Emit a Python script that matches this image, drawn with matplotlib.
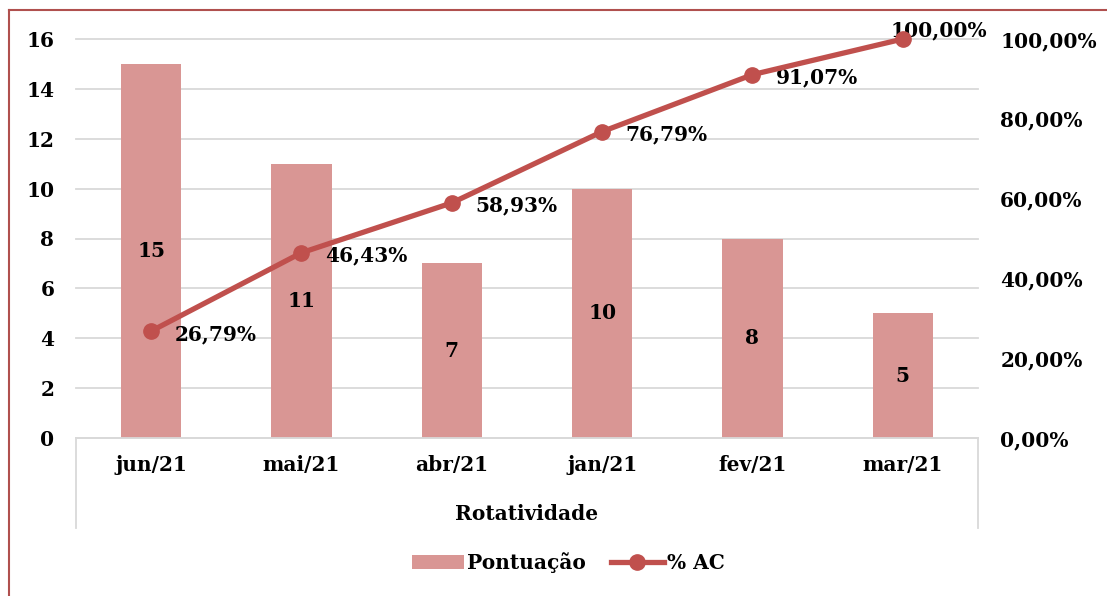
import matplotlib
matplotlib.use("Agg")
import matplotlib.pyplot as plt
from matplotlib.lines import Line2D
from matplotlib.patches import Patch
import numpy as np

# data
meses = ["jun/21", "mai/21", "abr/21", "jan/21", "fev/21", "mar/21"]
pontuacao = [15, 11, 7, 10, 8, 5]
perc_ac = [26.79, 46.43, 58.93, 76.79, 91.07, 100.00]
eixo_titulo = "Rotatividade"

W, H = 1107, 596
bar_col = "#D99694"
line_col = "#C0504D"
grid_col = "#D9D9D9"
frame_col = "#B0504E"

plt.rcParams["font.family"] = ["DejaVu Serif"]
plt.rcParams["font.weight"] = "bold"
fs = 14.5


def fx(px):
    return px / W


def fy(py):
    return 1 - py / H


fig = plt.figure(figsize=(W / 100, H / 100), dpi=100)
ax = fig.add_axes([fx(76), fy(438), fx(978) - fx(76), fy(39) - fy(438)])

x = np.arange(len(meses))
ax.bar(x, pontuacao, width=0.4, color=bar_col, zorder=2)
ax.set_xlim(-0.5, len(meses) - 0.5)
ax.set_ylim(0, 16)
ax.set_yticks(range(0, 17, 2))
ax.yaxis.grid(True, color=grid_col, linewidth=1.3, zorder=0)
for gl in ax.get_ygridlines():
    gl.set_clip_on(False)
ax.set_axisbelow(True)
for s in ["top", "right", "left"]:
    ax.spines[s].set_visible(False)
ax.spines["bottom"].set_color(grid_col)
ax.spines["bottom"].set_linewidth(1.3)
ax.tick_params(axis="y", length=0, pad=15.5, labelsize=fs)
ax.tick_params(axis="x", length=0, pad=12, labelsize=fs)
ax.set_xticks(x)
ax.set_xticklabels(meses)

for i, v in enumerate(pontuacao):
    ax.text(i, v / 2, str(v), ha="center", va="center", fontsize=fs,
            fontweight="bold", zorder=5)

ax2 = ax.twinx()
ax2.set_ylim(0, 100)
ax2.set_yticks(range(0, 101, 20))
ax2.set_yticklabels(["{:.2f}%".format(t).replace(".", ",") for t in range(0, 101, 20)])
for s in ax2.spines.values():
    s.set_visible(False)
ax2.tick_params(axis="y", length=0, pad=16, labelsize=fs)
ax2.plot(x, perc_ac, color=line_col, linewidth=3.8, marker="o", markersize=11,
         zorder=4, clip_on=False)

for i, v in enumerate(perc_ac):
    lbl = "{:.2f}%".format(v).replace(".", ",")
    if i == len(perc_ac) - 1:
        ax2.annotate(lbl, (i, v), xytext=(-9, 6), textcoords="offset points",
                     ha="left", va="center", fontsize=fs, fontweight="bold",
                     annotation_clip=False)
    else:
        ax2.annotate(lbl, (i, v), xytext=(17, -2), textcoords="offset points",
                     ha="left", va="center", fontsize=fs, fontweight="bold",
                     annotation_clip=False)

# category group box
for px in [76, 978]:
    fig.add_artist(Line2D([fx(px), fx(px)], [fy(438), fy(528)], color=grid_col,
                          linewidth=1.3))
fig.text(fx(527), fy(514), eixo_titulo, ha="center", va="center", fontsize=fs,
         fontweight="bold")

# legend
handles = [Patch(facecolor=bar_col, edgecolor="none"),
           Line2D([], [], color=line_col, linewidth=3.8, marker="o", markersize=11)]
fig.legend(handles, ["Pontuação", "% AC"], loc="center", bbox_to_anchor=(fx(568), fy(563)),
           ncol=2, frameon=False, fontsize=fs, handlelength=2.6, handletextpad=0.15,
           columnspacing=1.25)

# outer frame
fig.add_artist(Line2D([fx(8.5), fx(8.5)], [0, fy(9.5)], color=frame_col, linewidth=1.5))
fig.add_artist(Line2D([fx(8.5), 1], [fy(9.5), fy(9.5)], color=frame_col, linewidth=1.5))

fig.savefig("out.png", dpi=100, facecolor="white")
